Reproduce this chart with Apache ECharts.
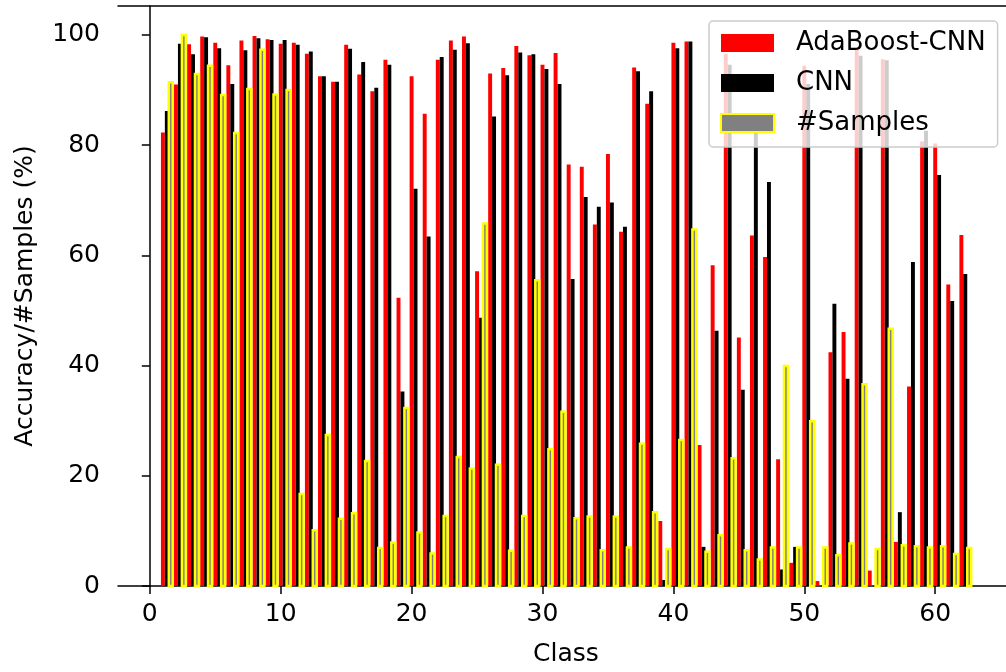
<!DOCTYPE html>
<html>
<head>
<meta charset="utf-8">
<script src="https://cdn.jsdelivr.net/npm/echarts@6/dist/echarts.min.js"></script>
<style>
  html, body { margin: 0; padding: 0; background: #fff; }
  #chart { width: 1006px; height: 672px; }
</style>
</head>
<body>
<div id="chart"></div>
<script>
const classes = [1, 2, 3, 4, 5, 6, 7, 8, 9, 10, 11, 12, 13, 14, 15, 16, 17, 18, 19, 20,
  21, 22, 23, 24, 25, 26, 27, 28, 29, 30, 31, 32, 33, 34, 35, 36, 37, 38, 39, 40,
  41, 42, 43, 44, 45, 46, 47, 48, 49, 50, 51, 52, 53, 54, 55, 56, 57, 58, 59, 60, 61, 62]

const adaboostCnn = [82.3, 91, 98.3, 99.7, 98.6, 94.5, 99, 99.8, 99.2, 98.4,
  98.6, 96.6, 92.5, 91.5, 98.2, 92.8, 89.8, 95.5, 52.3, 92.5,
  85.7, 95.5, 99, 99.7, 57.1, 93, 94, 98, 96.3, 94.6,
  96.7, 76.5, 76.1, 65.6, 78.4, 64.3, 94.1, 87.5, 11.8, 98.6,
  98.8, 25.6, 58.2, 96.6, 45.1, 63.6, 59.7, 23, 4.2, 94.4,
  0.9, 42.4, 46.1, 97.3, 2.8, 95.6, 8, 36.2, 80.7, 80.3, 54.7, 63.7]

const cnn = [86.2, 98.4, 96.5, 99.6, 97.6, 91.1, 97.2, 99.4, 99.1, 99.1,
  98.2, 97, 92.5, 91.5, 97.5, 95.1, 90.4, 94.6, 35.3, 72.1,
  63.4, 96, 97.3, 98.5, 48.7, 85.2, 92.7, 96.8, 96.5, 93.8,
  91.1, 55.7, 70.6, 68.8, 69.6, 65.2, 93.4, 89.8, 1.1, 97.6,
  98.8, 7.1, 46.3, 94.6, 35.6, 82.6, 73.3, 3, 7.1, 91.1,
  0, 51.2, 37.6, 96.2, 0, 95.4, 13.4, 58.8, 82.6, 74.6, 51.7, 56.6]

const samples = [91.4, 100, 92.9, 94.4, 89.1, 82.2, 90.2, 97.3, 89.2, 90,
  16.7, 10.1, 27.4, 12.2, 13.2, 22.7, 6.9, 7.9, 32.3, 9.7,
  5.9, 12.7, 23.4, 21.3, 65.8, 22, 6.4, 12.7, 55.5, 24.8,
  31.6, 12.3, 12.6, 6.5, 12.6, 7, 25.8, 13.4, 6.7, 26.5,
  64.7, 6.2, 9.2, 23.2, 6.5, 4.8, 7, 39.9, 7, 29.9,
  7, 5.6, 7.7, 36.6, 6.7, 46.7, 7.4, 7.2, 7, 7.2, 5.8, 6.9]

const xTicks = [0, 10, 20, 30, 40, 50, 60]
const yTicks = [0, 20, 40, 60, 80, 100]

const BAR_W = 0.3
const FONT = 'DejaVu Sans'

// bar drawn from the axes scale, shifted by offset inside the group
function barItem(offset) {
    return function (params, api) {
        const x = api.value(0) + offset
        const p0 = api.coord([x - BAR_W / 2, api.value(1)])
        const p1 = api.coord([x + BAR_W / 2, 0])
        return {
            type: 'rect',
            shape: { x: p0[0], y: p0[1], width: p1[0] - p0[0], height: p1[1] - p0[1] },
            style: api.style()
        }
    }
}

function pairs(values) {
    return classes.map((c, i) => [c, values[i]])
}

const chart = echarts.init(document.getElementById('chart'))
chart.setOption({
    animation: false,
    textStyle: { fontFamily: FONT },
    grid: {
        left: 118,
        right: 0,
        top: 6,
        bottom: 85
    },
    legend: {
        orient: 'vertical',
        left: 709,
        top: 21,
        padding: [8, 12, 10, 11],
        itemWidth: 53,
        itemHeight: 18,
        itemGap: 12,
        backgroundColor: 'rgba(255,255,255,0.8)',
        borderColor: '#cccccc',
        borderWidth: 1.5,
        borderRadius: 4,
        textStyle: {
            fontSize: 26,
            lineHeight: 28,
            color: '#000',
            fontFamily: FONT,
            padding: [0, 0, 0, 17]
        },
        data: [
            { name: 'AdaBoost-CNN', icon: 'rect', itemStyle: { color: '#ff0000' } },
            { name: 'CNN', icon: 'rect', itemStyle: { color: '#000000' } },
            { name: '#Samples', icon: 'rect', itemStyle: { color: '#808080', borderColor: '#ffff00', borderWidth: 2 } }
        ]
    },
    xAxis: [
        {
            type: 'value',
            min: -2.43,
            max: 65.41,
            name: 'Class',
            nameLocation: 'middle',
            nameGap: 56,
            nameTextStyle: { fontSize: 25, color: '#000', fontFamily: FONT, padding: [0, 0, 0, 8] },
            splitLine: { show: false },
            axisLine: { show: true, onZero: false, lineStyle: { color: '#000', width: 1.5 } },
            axisTick: { show: true, length: 8, lineStyle: { color: '#000', width: 1.5 }, customValues: xTicks },
            axisLabel: { fontSize: 25, color: '#000', margin: 16, fontFamily: FONT, customValues: xTicks }
        },
        {
            // top spine only
            type: 'value',
            position: 'top',
            min: -2.43,
            max: 65.41,
            splitLine: { show: false },
            axisLine: { show: true, onZero: false, lineStyle: { color: '#000', width: 1.5 } },
            axisTick: { show: false },
            axisLabel: { show: false }
        }
    ],
    yAxis: {
        type: 'value',
        min: 0,
        max: 105.25,
        name: 'Accuracy/#Samples (%)',
        nameLocation: 'middle',
        nameGap: 80,
        nameTextStyle: { fontSize: 25, color: '#000', fontFamily: FONT },
        splitLine: { show: false },
        axisLine: { show: true, lineStyle: { color: '#000', width: 1.5 } },
        axisTick: { show: true, length: 8, lineStyle: { color: '#000', width: 1.5 }, customValues: yTicks },
        axisLabel: { fontSize: 25, color: '#000', margin: 18, fontFamily: FONT, customValues: yTicks }
    },
    series: [
        {
            name: 'AdaBoost-CNN',
            type: 'custom',
            renderItem: barItem(0),
            itemStyle: { color: '#ff0000' },
            encode: { x: 0, y: 1 },
            data: pairs(adaboostCnn)
        },
        {
            name: 'CNN',
            type: 'custom',
            renderItem: barItem(0.3),
            itemStyle: { color: '#000000' },
            encode: { x: 0, y: 1 },
            data: pairs(cnn)
        },
        {
            name: '#Samples',
            type: 'custom',
            renderItem: barItem(0.6),
            itemStyle: { color: '#808080', borderColor: '#ffff00', borderWidth: 2.5 },
            encode: { x: 0, y: 1 },
            data: pairs(samples)
        }
    ]
})
</script>
</body>
</html>
